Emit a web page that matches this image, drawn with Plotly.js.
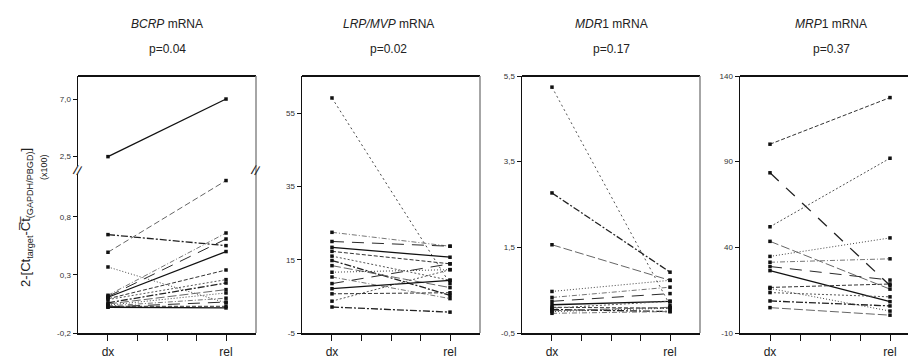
<!DOCTYPE html>
<html>
<head>
<meta charset="utf-8">
<script src="https://cdn.plot.ly/plotly-3.0.1.min.js"></script>
<style>html,body{margin:0;padding:0;background:#fff;}#chart{width:908px;height:358px;}</style>
</head>
<body>
<div id="chart"></div>
<script>
// ---------------- data ----------------
const xLabels = ["dx", "rel"];

const panelTitles = ["<i>BCRP</i> mRNA", "<i>LRP/MVP</i> mRNA", "<i>MDR</i>1 mRNA", "<i>MRP</i>1 mRNA"];
const pValues = ["p=0.04", "p=0.02", "p=0.17", "p=0.37"];

// BCRP (broken axis: upper part)
const bcrpUpperDx  = [2.45];
const bcrpUpperRel = [7.0];
// BCRP (lower part)
const bcrpDx  = [0.648, 0.496, 0.369, 0.125, 0.115, 0.108, 0.095, 0.088, 0.06, 0.05, 0.04, 0.033, 0.025, 0.022, 0.03];
const bcrpRel = [0.553, 1.114, 0.06, 0.662, 0.61, 0.502, 0.343, 0.26, 0.231, 0.174, 0.145, 0.10, 0.067, 0.016, 0.03];

// LRP/MVP
const lrpDx  = [59.2, 22.5, 20.0, 18.4, 17.3, 16.0, 14.8, 13.4, 11.6, 10.3, 8.5, 7.1, 5.7, 3.7, 2.1];
const lrpRel = [8.5, 18.7, 18.7, 15.7, 13.9, 9.4, 5.3, 7.4, 12.3, 4.4, 13.9, 9.4, 6.0, 12.3, 0.7];

// MDR1
const mdrDx  = [5.24, 2.77, 1.56, 0.47, 0.33, 0.24, 0.16, 0.10, 0.08, 0.05, 0.02, 0.0, -0.04];
const mdrRel = [0.15, 0.92, 0.73, 0.73, 0.57, 0.42, 0.24, 0.08, 0.24, 0.0, 0.1, 0.08, 0.0];

// MRP1
const mrpDx  = [100.2, 52.0, 83.5, 43.5, 34.7, 31.3, 28.8, 26.4, 16.6, 13.6, 8.7, 4.8, 16.0];
const mrpRel = [127.4, 92.0, 17.7, 15.6, 45.5, 33.3, 20.9, 8.3, 18.6, 11.1, 5.8, 0.4, 2.8];

// tick values / labels
const bcrpUpperTicks = [2.5, 7.0],            bcrpUpperTickText = ["2,5", "7,0"];
const bcrpLowerTicks = [-0.2, 0.3, 0.8],      bcrpLowerTickText = ["-0,2", "0,3", "0,8"];
const lrpTicks = [-5, 15, 35, 55],            lrpTickText = ["-5", "15", "35", "55"];
const mdrTicks = [-0.5, 1.5, 3.5, 5.5],       mdrTickText = ["-0,5", "1,5", "3,5", "5,5"];
const mrpTicks = [-10, 40, 90, 140],          mrpTickText = ["-10", "40", "90", "140"];

// ---------------- styling ----------------
const W = 908, H = 358;
const PX = x => x / W;
const PY = y => 1 - y / H;
const FONT = "Liberation Sans, Arial, sans-serif";

const dashes = ["solid", "4px,2px", "2px,2px", "7px,2px,2px,2px", "9px,3px", "1px,2px", "5px,2px,1px,2px", "12px,8px"];
const greys  = ["#111", "#333", "#555", "#222", "#666", "#444", "#777", "#2a2a2a"];

const xIdx = xLabels.map((_, k) => k);
const traces = [];
function addLines(dx, rel, xa, ya, offset) {
  dx.forEach((v, i) => {
    const k = (i + offset) % dashes.length;
    traces.push({
      type: "scatter", mode: "lines+markers",
      x: xIdx, y: [v, rel[i]],
      xaxis: xa, yaxis: ya,
      line: {color: greys[k], width: (k === 0 || k === 3) ? 1.3 : 1.0, dash: dashes[k]},
      marker: {symbol: "square", size: 3.5, color: "#111"},
      hoverinfo: "skip", cliponaxis: false
    });
  });
}
addLines(bcrpUpperDx, bcrpUpperRel, "x", "y5", 0);
addLines(bcrpDx, bcrpRel, "x", "y", 3);
addLines(lrpDx, lrpRel, "x2", "y2", 5);
addLines(mdrDx, mdrRel, "x3", "y3", 2);
addLines(mrpDx, mrpRel, "x4", "y4", 1);
// a few line styles to resemble the reference
traces[0].line.dash = "solid"; traces[0].line.color = "#111";
traces[2].line.dash = "6px,3px";
traces[16].line.dash = "2px,3px";      // LRP top outlier dotted
traces[31].line.dash = "2px,3px";      // MDR top outlier dotted
traces[46].line.dash = "12px,10px";    // MRP crossing long-dash

const plotTop = 76, plotBot = 333;
const yDom = [PY(plotBot), PY(plotTop)];
const panelsX = [[78, 256], [302, 480], [522, 700], [740, 908]];

function xAxis(p, range) {
  return {
    domain: [PX(panelsX[p][0]), PX(panelsX[p][1])],
    range: range,
    tickvals: xIdx,
    ticktext: xLabels,
    ticks: "outside", ticklen: 6, tickwidth: 1, tickcolor: "#111",
    ticklabelstandoff: 1,
    minor: {tickvals: [0.25, 0.5, 0.75], ticks: "outside", ticklen: 6, tickwidth: 1, tickcolor: "#111", showgrid: false},
    showline: true, linecolor: "#111", linewidth: 1.5,
    showgrid: false, zeroline: false,
    tickfont: {family: FONT, size: 12, color: "#222"},
    fixedrange: true
  };
}
function yAxis(domain, range, tv, tt, anchor) {
  return {
    domain: domain, range: range, anchor: anchor,
    tickvals: tv, ticktext: tt,
    ticks: "outside", ticklen: 4, tickwidth: 1, tickcolor: "#111",
    showline: true, linecolor: "#111", linewidth: 1.5,
    showgrid: false, zeroline: false,
    tickfont: {family: FONT, size: 8, color: "#333"},
    fixedrange: true
  };
}

const lowerTopPx = 173.7, upperBotPx = 166;
const layout = {
  width: W, height: H,
  margin: {l: 0, r: 0, t: 0, b: 0},
  paper_bgcolor: "#fff", plot_bgcolor: "#fff",
  showlegend: false,
  xaxis:  Object.assign(xAxis(0, [-0.254, 1.254]), {anchor: "y"}),
  xaxis2: Object.assign(xAxis(1, [-0.254, 1.254]), {anchor: "y2"}),
  xaxis3: Object.assign(xAxis(2, [-0.254, 1.254]), {anchor: "y3"}),
  xaxis4: Object.assign(xAxis(3, [-0.25, 1.15]), {anchor: "y4"}),
  yaxis:  yAxis([PY(plotBot), PY(lowerTopPx)], [-0.2, 1.173], bcrpLowerTicks, bcrpLowerTickText, "x"),
  yaxis5: yAxis([PY(upperBotPx), PY(plotTop)], [1.71, 8.82], bcrpUpperTicks, bcrpUpperTickText, "x"),
  yaxis2: yAxis(yDom, [-5, 65.2], lrpTicks, lrpTickText, "x2"),
  yaxis3: yAxis(yDom, [-0.5, 5.5], mdrTicks, mdrTickText, "x3"),
  yaxis4: yAxis(yDom, [-10, 140], mrpTicks, mrpTickText, "x4"),
  shapes: [],
  annotations: []
};

// top borders and right borders
panelsX.forEach((px, i) => {
  layout.shapes.push({type: "line", xref: "paper", yref: "paper",
    x0: PX(px[0]), x1: PX(px[1]), y0: PY(plotTop), y1: PY(plotTop),
    line: {color: "#111", width: 2}});
  if (i < 3) {
    layout.shapes.push({type: "line", xref: "paper", yref: "paper",
      x0: PX(px[1]), x1: PX(px[1]), y0: PY(plotBot), y1: PY(plotTop),
      line: {color: "#888", width: 1.5}});
  }
});

// titles
const centers = [167, 388, 611, 831];
centers.forEach((cx, i) => {
  layout.annotations.push({xref: "paper", yref: "paper", x: PX(cx), y: PY(24),
    xanchor: "center", yanchor: "middle", showarrow: false, text: panelTitles[i],
    font: {family: FONT, size: 12, color: "#222"}});
  layout.annotations.push({xref: "paper", yref: "paper", x: PX(cx), y: PY(49),
    xanchor: "center", yanchor: "middle", showarrow: false, text: pValues[i],
    font: {family: FONT, size: 12, color: "#222"}});
});

// axis break marks
[[78, 170], [256, 170]].forEach(p => {
  layout.annotations.push({xref: "paper", yref: "paper", x: PX(p[0]), y: PY(p[1]),
    xanchor: "center", yanchor: "middle", showarrow: false, text: "//",
    textangle: 15,
    font: {family: FONT, size: 13, color: "#222"}});
});

// y-axis title
layout.annotations.push({xref: "paper", yref: "paper", x: PX(26), y: PY(218),
  xanchor: "center", yanchor: "middle", showarrow: false, textangle: -90,
  text: "2-[Ct<sub>target</sub>-C\u0305t\u0305<sub>(GAPDH/PBGD)</sub>]",
  font: {family: FONT, size: 13, color: "#222"}});
layout.annotations.push({xref: "paper", yref: "paper", x: PX(44), y: PY(167),
  xanchor: "center", yanchor: "middle", showarrow: false, textangle: -90,
  text: "(x100)", font: {family: FONT, size: 9, color: "#222"}});

Plotly.newPlot("chart", traces, layout, {staticPlot: true, displayModeBar: false});
</script>
</body>
</html>
